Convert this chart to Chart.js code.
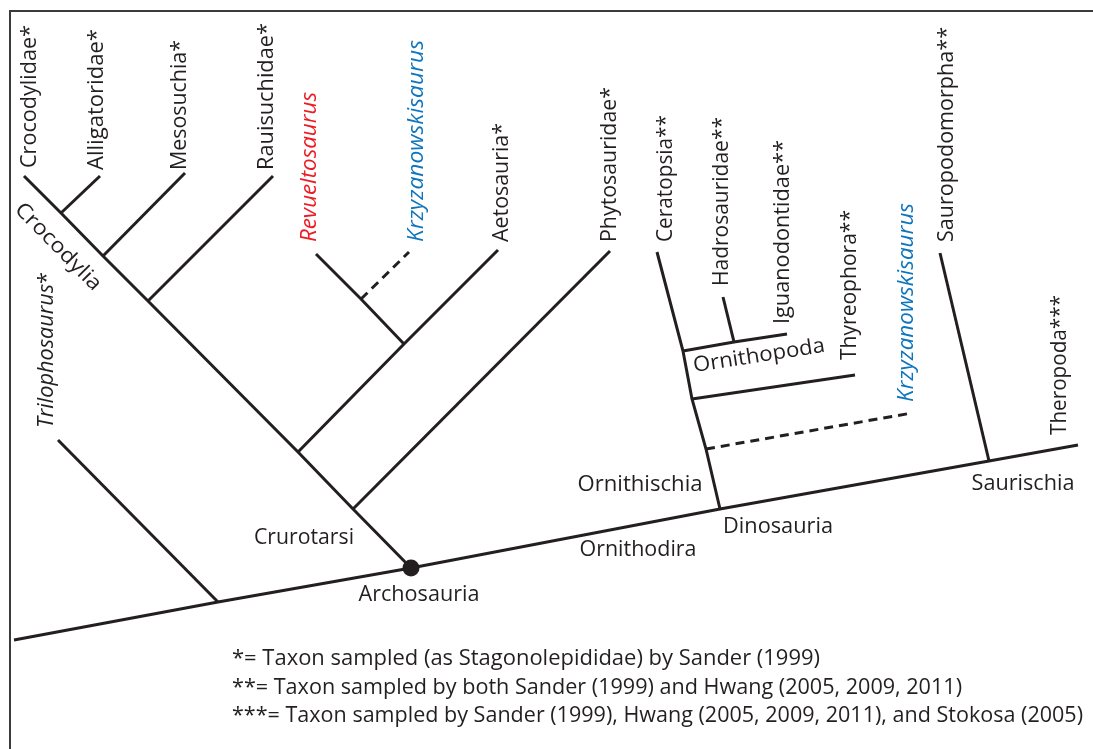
<!DOCTYPE html>
<html><head><meta charset="utf-8">
<script src="https://cdn.jsdelivr.net/npm/chart.js@4.4.1/dist/chart.umd.min.js"></script>
<style>html,body{margin:0;padding:0;background:#fff;overflow:hidden}#wrap{width:1093px;height:749px}</style>
</head><body><div id="wrap"><canvas id="c" width="1093" height="749"></canvas></div>
<script>
// ---- DATA: cladogram (units = figure coordinates) ----
const tipNames = ['Crocodylidae*','Alligatoridae*','Mesosuchia*','Rauisuchidae*','Revueltosaurus','Krzyzanowskisaurus','Aetosauria*','Phytosauridae*','Ceratopsia**','Hadrosauridae**','Iguanodontidae**','Thyreophora**','Krzyzanowskisaurus','Sauropodomorpha**','Theropoda***','Trilophosaurus*'];
const tipX = [24,100,185,273,316,409,498,610,657,723,787,855,912,940,1078,58];
const tipY = [176,176,173,176,254,252,250,251,252,297,334,375,413,253,445,440];

const cladeNames = ['root','Trilophosaurus split','Archosauria','Phytosauridae split','Aetosauria split','Rauisuchidae split','Mesosuchia split','Crocodylia','Revueltosaurus split','Krzyzanowskisaurus split','Dinosauria','Ornithopoda','Hadrosauridae split','Thyreophora split','Krzyzanowskisaurus dino split','Saurischia'];
const cladeX = [14,218,411,353,298,148,103,61,404,361,720,683,734,692,706,989];
const cladeY = [640,602,568,509,452,301,256,213,344,299,509,351,342,399,449,461];

// branches as paths through nodes (C = clade node, T = tip)
const paths = [
  ['C0','C1','C2','C10','C15','T14'],
  ['C1','T15'],
  ['C2','C3','C4','C5','C6','C7','T0'],
  ['C7','T1'],
  ['C6','T2'],
  ['C5','T3'],
  ['C4','C8','T6'],
  ['C8','C9','T4'],
  ['C9','T5'],
  ['C3','T7'],
  ['C10','C14','C13','C11','T8'],
  ['C11','C12','T10'],
  ['C12','T9'],
  ['C13','T11'],
  ['C14','T12'],
  ['C15','T13']
];
const pathUncertain = [false,false,false,false,false,false,false,false,true,false,false,false,false,false,true,false];

const footnotes = [
  '*= Taxon sampled (as Stagonolepididae) by Sander (1999)',
  '**= Taxon sampled by both Sander (1999) and Hwang (2005, 2009, 2011)',
  '***= Taxon sampled by Sander (1999), Hwang (2005, 2009, 2011), and Stokosa (2005)'
];

// ---- helpers ----
function pt(k){
  const i = +k.slice(1);
  return k[0]==='C' ? {x:cladeX[i], y:cladeY[i]} : {x:tipX[i], y:tipY[i]};
}
const INK = '#231f20';
const datasets = paths.map((p,i)=>({
  data: p.map(pt), showLine:true, borderColor:INK, borderWidth:3,
  borderDash: pathUncertain[i] ? [9,6] : [], pointRadius:0, fill:false, tension:0,
  borderCapStyle:'butt', borderJoinStyle:'miter'
}));
datasets.push({data:[{x:cladeX[2],y:cladeY[2]}], showLine:false, pointRadius:8.5, pointBackgroundColor:INK, pointBorderWidth:0});

// ---- layout of labels (styles/positions) ----
const FONT = '"Open Sans", "Noto Sans", sans-serif';
const tipDx  = [6,-3,-5,-6,-6,8,4,0,9,-1,-4,-5,-5,7,-18,-11];
const tipGap = [8,6,3,6,12,10,8,9,10,11,10,15,11,11,10,12];
const tipLen = [143,141,130,147,150,202,119,155,127,169,184,150,199,215,140,156];
const tipColor = {4:'#ed1c24',5:'#0f75bd',12:'#0f75bd'};
const tipItalic = {4:true,5:true,12:true,15:true};
const cladeLabels = [
  {n:2, t:'Crurotarsi', dx:-107, dy:-30, w:100, a:0},
  {n:2, t:'Archosauria', dx:8, dy:27, w:121, a:0},
  {n:10, t:'Ornithodira', dx:-82, dy:41, w:117, a:0},
  {n:10, t:'Ornithischia', dx:-80, dy:-24, w:125, a:0},
  {n:10, t:'Dinosauria', dx:58, dy:18, w:110, a:0},
  {n:15, t:'Saurischia', dx:34, dy:23, w:103, a:0},
  {n:11, t:'Ornithopoda', dx:76, dy:5, w:133, a:-8.8},
  {n:7, t:'Crocodylia', dx:-3, dy:34, w:114, a:45.5}
];
const footX = 232, footY = [659,688,716], footW = [588,730,851];

function drawFit(ctx, parts, len){
  let total = 0;
  parts.forEach(p=>{ ctx.font = (p.italic?'italic ':'') + '21px ' + FONT; p.w = ctx.measureText(p.text).width; total += p.w; });
  const s = len/total;
  ctx.scale(s,1);
  let x = 0;
  parts.forEach(p=>{ ctx.font = (p.italic?'italic ':'') + '21px ' + FONT; ctx.fillText(p.text, x, 0); x += p.w; });
}
function splitStar(name, italic){
  const m = name.match(/^([^*]*)(\**)$/);
  const parts = [{text:m[1], italic:!!italic}];
  if (m[2]) parts.push({text:m[2], italic:false});
  return parts;
}

const labels = {
  id:'labels',
  afterDraw(chart){
    const ctx = chart.ctx, X = chart.scales.x, Y = chart.scales.y;
    ctx.save();
    ctx.strokeStyle = '#3b3b3b'; ctx.lineWidth = 2;
    ctx.beginPath(); ctx.moveTo(10,749); ctx.lineTo(10,11); ctx.lineTo(1093,11); ctx.stroke();
    ctx.textBaseline = 'middle'; ctx.textAlign = 'left';
    tipNames.forEach((name,i)=>{
      const px = X.getPixelForValue(tipX[i]) + tipDx[i];
      const py = Y.getPixelForValue(tipY[i]) - tipGap[i];
      ctx.save();
      ctx.fillStyle = tipColor[i] || INK;
      ctx.translate(px,py); ctx.rotate(-Math.PI/2);
      drawFit(ctx, splitStar(name, tipItalic[i]), tipLen[i]);
      ctx.restore();
    });
    ctx.fillStyle = INK;
    cladeLabels.forEach(l=>{
      const px = X.getPixelForValue(cladeX[l.n]) + l.dx;
      const py = Y.getPixelForValue(cladeY[l.n]) + l.dy;
      ctx.save(); ctx.translate(px,py); ctx.rotate(l.a*Math.PI/180);
      ctx.translate(-l.w/2,0);
      drawFit(ctx, [{text:l.t, italic:false}], l.w);
      ctx.restore();
    });
    footnotes.forEach((f,i)=>{
      ctx.save(); ctx.translate(footX, footY[i]);
      drawFit(ctx, [{text:f, italic:false}], footW[i]);
      ctx.restore();
    });
    ctx.restore();
  }
};

new Chart(document.getElementById('c'), {
  type:'scatter',
  data:{datasets},
  options:{
    responsive:false, animation:false, devicePixelRatio:1,
    layout:{padding:0, autoPadding:false},
    plugins:{legend:{display:false}, tooltip:{enabled:false}},
    scales:{
      x:{type:'linear', min:0, max:1093, display:false},
      y:{type:'linear', min:0, max:749, reverse:true, display:false}
    }
  },
  plugins:[labels]
});
</script>
</body></html>
